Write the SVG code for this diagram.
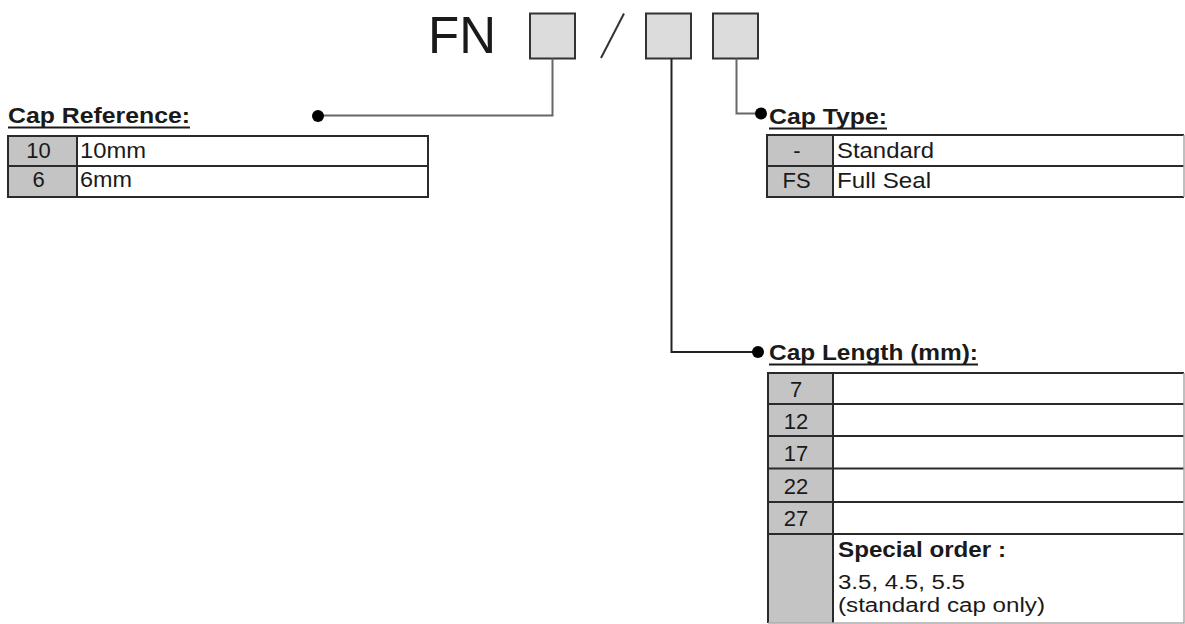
<svg xmlns="http://www.w3.org/2000/svg" width="1185" height="624" viewBox="0 0 1185 624">
<style>
.t{font-family:"Liberation Sans",Arial,sans-serif;fill:#1a1a1a;font-size:22px}
.s{font-size:20px}
.b{font-weight:bold}
.m{text-anchor:middle}
.box{fill:#dcdcdc;stroke:#333;stroke-width:2}
.key{fill:#c4c4c4}
.grid{stroke:#2a2a2a;stroke-width:2;fill:none}
.edge{stroke:#aaa;stroke-width:1.5;fill:none}
.ul{stroke:#1a1a1a;stroke-width:2.2}
.c1{stroke:#666;stroke-width:2;fill:none}
.c2{stroke:#222;stroke-width:2;fill:none}
.dot{fill:#000}
</style>
<rect width="1185" height="624" fill="#fff"/>

<g id="code">
<text class="t" x="428" y="53" style="font-size:51px" textLength="68" lengthAdjust="spacingAndGlyphs">FN</text>
<rect class="box" x="530" y="13.5" width="45" height="45"/>
<line x1="601" y1="58" x2="624" y2="13.5" stroke="#333" stroke-width="2"/>
<rect class="box" x="646" y="13.5" width="45" height="45"/>
<rect class="box" x="713" y="13.5" width="45" height="45"/>
</g>

<g id="connectors">
<polyline class="c1" points="552.5,58.5 552.5,115.5 318,115.5"/>
<circle class="dot" cx="318" cy="116" r="6"/>
<polyline class="c1" points="736.5,58.5 736.5,113.5 758,113.5"/>
<circle class="dot" cx="761" cy="113.5" r="6"/>
<polyline class="c2" points="671.5,58.5 671.5,352 758,352"/>
<circle class="dot" cx="758" cy="352" r="6"/>
</g>

<g id="cap-reference">
<text class="t b" x="8" y="123" textLength="182" lengthAdjust="spacingAndGlyphs">Cap Reference:</text>
<line class="ul" x1="8" y1="127.5" x2="190" y2="127.5"/>
<rect class="key" x="8" y="136" width="69" height="61"/>
<rect class="grid" x="8" y="136" width="420" height="61"/>
<line class="grid" x1="8" y1="166" x2="428" y2="166"/>
<line class="grid" x1="77" y1="136" x2="77" y2="197"/>
<text class="t m" x="38.5" y="158">10</text>
<text class="t" x="80" y="158" textLength="66" lengthAdjust="spacingAndGlyphs">10mm</text>
<text class="t m" x="38.5" y="187">6</text>
<text class="t" x="80" y="187" textLength="52" lengthAdjust="spacingAndGlyphs">6mm</text>
</g>

<g id="cap-type">
<text class="t b" x="769" y="124" textLength="118" lengthAdjust="spacingAndGlyphs">Cap Type:</text>
<line class="ul" x1="769" y1="128.5" x2="887" y2="128.5"/>
<rect class="key" x="767" y="135" width="66" height="62"/>
<polyline class="grid" points="1184,135 767,135 767,197 1184,197"/>
<line class="grid" x1="767" y1="166" x2="1184" y2="166"/>
<line class="grid" x1="833" y1="135" x2="833" y2="197"/>
<line class="edge" x1="1184" y1="135" x2="1184" y2="197"/>
<text class="t m" x="797" y="158">-</text>
<text class="t" x="837" y="158" textLength="97" lengthAdjust="spacingAndGlyphs">Standard</text>
<text class="t m" x="796.5" y="188">FS</text>
<text class="t" x="837" y="188" textLength="94" lengthAdjust="spacingAndGlyphs">Full Seal</text>
</g>

<g id="cap-length">
<text class="t b" x="769" y="360" textLength="209" lengthAdjust="spacingAndGlyphs">Cap Length (mm):</text>
<line class="ul" x1="769" y1="364.5" x2="978" y2="364.5"/>
<rect class="key" x="768" y="373" width="65" height="250"/>
<polyline class="grid" points="1184,373 768,373 768,623"/>
<line class="grid" x1="768" y1="404" x2="1184" y2="404"/>
<line class="grid" x1="768" y1="436" x2="1184" y2="436"/>
<line class="grid" x1="768" y1="468.5" x2="1184" y2="468.5"/>
<line class="grid" x1="768" y1="502" x2="1184" y2="502"/>
<line class="grid" x1="768" y1="534" x2="1184" y2="534"/>
<line class="grid" x1="833" y1="373" x2="833" y2="623"/>
<polyline class="edge" points="1184,373 1184,623 768,623"/>
<text class="t m" x="796" y="397">7</text>
<text class="t m" x="796" y="428.5">12</text>
<text class="t m" x="796" y="460.5">17</text>
<text class="t m" x="796" y="493.5">22</text>
<text class="t m" x="796" y="525.5">27</text>
<text class="t b" x="838" y="557" textLength="168" lengthAdjust="spacingAndGlyphs">Special order :</text>
<text class="t s" x="838" y="589" textLength="127" lengthAdjust="spacingAndGlyphs">3.5, 4.5, 5.5</text>
<text class="t s" x="838" y="612" textLength="207" lengthAdjust="spacingAndGlyphs">(standard cap only)</text>
</g>
</svg>
